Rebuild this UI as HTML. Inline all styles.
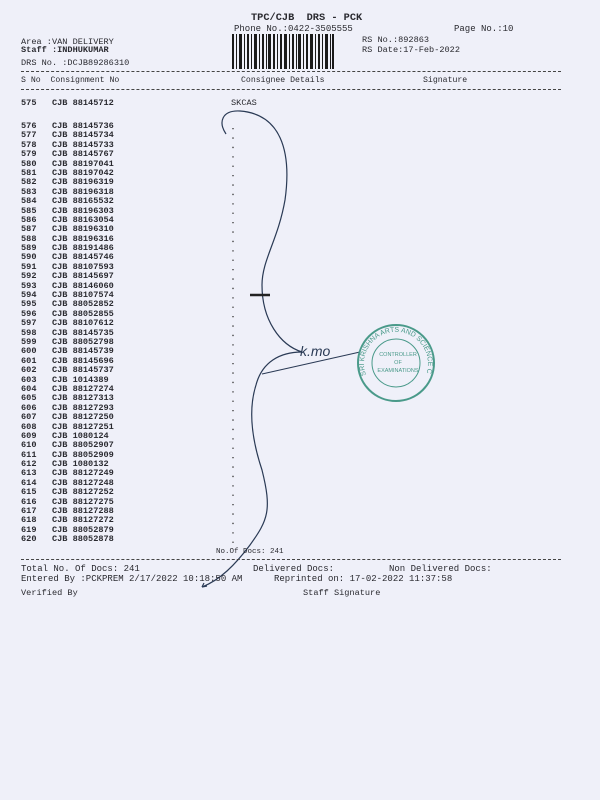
<!DOCTYPE html>
<html><head><meta charset="utf-8"><style>
body{margin:0;width:600px;height:800px;background:#eff0f9;position:relative;overflow:hidden;font-family:"Liberation Mono",monospace;color:#2a2a30}
.t{position:absolute;white-space:pre;font-size:8.6px;line-height:10px}
.b{font-weight:bold}
.dash{position:absolute;left:21px;width:540px;border-top:1px dashed #444}
</style></head><body>
<div class="t b" style="left:251px;top:13px;font-size:10.3px">TPC/CJB  DRS - PCK</div>
<div class="t" style="left:234px;top:24px;font-size:9px">Phone No.:0422-3505555</div>
<div class="t" style="left:454px;top:24px;font-size:9px">Page No.:10</div>
<div class="t" style="left:21px;top:37px">Area :VAN DELIVERY</div>
<div class="t b" style="left:21px;top:45px">Staff :INDHUKUMAR</div>
<div class="t" style="left:21px;top:58px">DRS No. :DCJB89286310</div>
<div class="t" style="left:362px;top:35px">RS No.:892863</div>
<div class="t" style="left:362px;top:45px">RS Date:17-Feb-2022</div>
<svg style="position:absolute;left:232px;top:34px" width="102" height="35">
<g fill="#1a1a1a">
<rect x="0" width="2" height="35"/><rect x="4" width="1" height="35"/><rect x="7" width="3" height="35"/><rect x="12" width="1" height="35"/><rect x="15" width="2" height="35"/><rect x="19" width="1" height="35"/><rect x="22" width="3" height="35"/><rect x="27" width="1" height="35"/><rect x="30" width="2" height="35"/><rect x="34" width="1" height="35"/><rect x="36" width="3" height="35"/><rect x="41" width="2" height="35"/><rect x="45" width="1" height="35"/><rect x="48" width="2" height="35"/><rect x="52" width="3" height="35"/><rect x="57" width="1" height="35"/><rect x="60" width="2" height="35"/><rect x="64" width="1" height="35"/><rect x="66" width="3" height="35"/><rect x="71" width="1" height="35"/><rect x="74" width="2" height="35"/><rect x="78" width="3" height="35"/><rect x="83" width="1" height="35"/><rect x="86" width="2" height="35"/><rect x="90" width="1" height="35"/><rect x="93" width="3" height="35"/><rect x="98" width="1" height="35"/><rect x="100" width="2" height="35"/>
</g></svg>
<div class="dash" style="top:71px"></div>
<div class="t" style="left:21px;top:76px;font-size:8.2px">S No  Consignment No</div>
<div class="t" style="left:241px;top:76px;font-size:8.2px">Consignee Details</div>
<div class="t" style="left:423px;top:76px;font-size:8.2px">Signature</div>
<div class="dash" style="top:89px"></div>
<div class="t b" style="left:21px;top:98px">575   CJB 88145712</div>
<div class="t" style="left:231px;top:98px">SKCAS</div>
<div class="t b" style="left:21px;top:122px;line-height:9.39px">576   CJB 88145736
577   CJB 88145734
578   CJB 88145733
579   CJB 88145767
580   CJB 88197041
581   CJB 88197042
582   CJB 88196319
583   CJB 88196318
584   CJB 88165532
585   CJB 88196303
586   CJB 88163054
587   CJB 88196310
588   CJB 88196316
589   CJB 88191486
590   CJB 88145746
591   CJB 88107593
592   CJB 88145697
593   CJB 88146060
594   CJB 88107574
595   CJB 88052852
596   CJB 88052855
597   CJB 88107612
598   CJB 88145735
599   CJB 88052798
600   CJB 88145739
601   CJB 88145696
602   CJB 88145737
603   CJB 1014389
604   CJB 88127274
605   CJB 88127313
606   CJB 88127293
607   CJB 88127250
608   CJB 88127251
609   CJB 1080124
610   CJB 88052907
611   CJB 88052909
612   CJB 1080132
613   CJB 88127249
614   CJB 88127248
615   CJB 88127252
616   CJB 88127275
617   CJB 88127288
618   CJB 88127272
619   CJB 88052879
620   CJB 88052878</div>
<svg style="position:absolute;left:0;top:0" width="600" height="800">
<g fill="#333"><script></script>
</g>
<path d="M233 128 V548" stroke="#333" stroke-width="1.3" stroke-dasharray="1.3 8.1" fill="none"/>
<path d="M226 134 C218 122 222 110 240 111 C280 114 292 150 285 200 C278 240 262 260 262 285 C262 320 280 345 302 352" stroke="#2a3a55" stroke-width="1.2" fill="none"/>
<path d="M250 295 h20" stroke="#222" stroke-width="2.5"/>
<path d="M302 352 C280 352 262 362 256 385 C248 410 252 440 262 470 C272 510 268 520 250 545 C235 565 220 580 202 587" stroke="#2a3a55" stroke-width="1.2" fill="none"/>
<path d="M262 374 L360 352" stroke="#2a3a55" stroke-width="1" fill="none"/>
<path d="M202 587 l5 -1 M202 587 l2 -4" stroke="#2a3a55" stroke-width="1.2"/>
<text x="300" y="356" font-family="Liberation Sans,sans-serif" font-size="14" fill="#2a3a55" font-style="italic">k.mo</text>
<g stroke="#4a9a8a" fill="none">
<circle cx="396" cy="363" r="38" stroke-width="2"/>
<circle cx="396" cy="363" r="24" stroke-width="1"/>
</g>
<g font-family="Liberation Sans,sans-serif" fill="#4a9a8a" font-size="5.5" text-anchor="middle">
<text x="398" y="356">CONTROLLER</text><text x="398" y="364">OF</text><text x="398" y="372">EXAMINATIONS</text>
</g>
<path id="arc" d="M366 375 A32 32 0 1 1 426 375" fill="none"/>
<text font-family="Liberation Sans,sans-serif" font-size="7" fill="#4a9a8a"><textPath href="#arc">SRI KRISHNA ARTS AND SCIENCE COLLEGE</textPath></text>
</svg>
<div class="t" style="left:216px;top:547px;font-size:7.5px">No.Of Docs: 241</div>
<div class="dash" style="top:559px"></div>
<div class="t" style="left:21px;top:564px;font-size:9px">Total No. Of Docs: 241</div>
<div class="t" style="left:253px;top:564px;font-size:9px">Delivered Docs:</div>
<div class="t" style="left:389px;top:564px;font-size:9px">Non Delivered Docs:</div>
<div class="t" style="left:21px;top:574px;font-size:9px">Entered By :PCKPREM 2/17/2022 10:18:50 AM</div>
<div class="t" style="left:274px;top:574px;font-size:9px">Reprinted on: 17-02-2022 11:37:58</div>
<div class="t" style="left:21px;top:588px;font-size:8.6px">Verified By</div>
<div class="t" style="left:303px;top:588px;font-size:8.6px">Staff Signature</div>
</body></html>
